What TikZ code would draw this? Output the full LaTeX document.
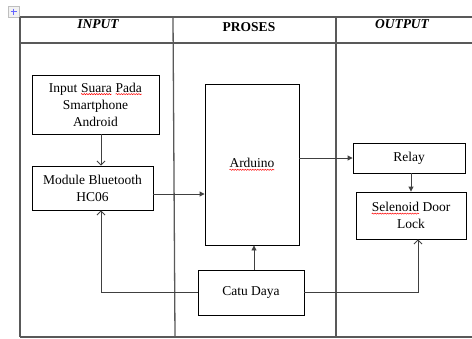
\documentclass[tikz,border=0pt]{standalone}
\usepackage{fontspec}
\setmainfont{Liberation Serif}
\usetikzlibrary{arrows.meta,decorations.pathmorphing}
\newcommand{\spell}[1]{\tikz[baseline=(w.base)]{\node[inner sep=0pt, outer sep=0pt, draw=none, minimum size=0pt] (w) {#1};
  \draw[red, line width=0.5pt, decorate, decoration={snake, amplitude=0.6pt, segment length=2.5pt}]
    ([yshift=-2pt]w.base west) -- ([yshift=-2pt]w.base east);}}
\tikzset{
  block/.style={draw=black, line width=0.9pt, fill=white, align=center, inner sep=2pt,
    font=\fontsize{13.5}{17}\selectfont},
  grid/.style={draw=black!65, line width=1.3pt},
  head/.style={font=\fontsize{13.5}{16}\selectfont\bfseries},
  wire/.style={draw=black!75, line width=0.9pt},
  fillarrow/.style={wire, -{Triangle[length=5pt,width=5pt]}},
  openarrow/.style={wire, -{Straight Barb[length=4pt,width=8pt]}}
}
\begin{document}
\begin{tikzpicture}[x=1pt,y=-1pt]
\useasboundingbox (0,0) rectangle (472,338);
% table move handle
\draw [black!25, fill=black!5] (8,6) rectangle (19,17);
\draw [blue!60, line width=1pt] (10.5,11.5) -- (16.5,11.5) (13.5,8.5) -- (13.5,14.5);
% table
\draw [grid] (20,17) -- (472,17);
\draw [grid] (20,43) -- (472,43);
\draw [grid] (20,337) -- (472,337);
\draw [grid] (20,17) -- (20,337);
\draw [grid] (173,17) -- (175,337);
\draw [grid] (336,17) -- (336,337);
\node [head] (hin) at (98,24) {\itshape INPUT};
\node [head] (hpr) at (249,27) {PROSES};
\node [head] (hout) at (402,24) {\itshape OUTPUT};
% blocks
\node [block, minimum width=127pt, minimum height=59pt] (inp) at (95.5,104.5)
  {Input \spell{Suara} \spell{Pada}\\Smartphone\\Android};
\node [block, minimum width=121pt, minimum height=44pt] (bt) at (92.5,188)
  {Module Bluetooth\\HC06};
\node [block, minimum width=94pt, minimum height=161pt] (ard) at (252,164.5)
  {\spell{Arduino}};
\node [block, minimum width=112pt, minimum height=30pt] (relay) at (409,158) {Relay};
\node [block, minimum width=110pt, minimum height=47pt] (sel) at (411,215.5)
  {\spell{Selenoid} Door\\Lock};
\node [block, minimum width=106pt, minimum height=45pt] (catu) at (251,292.5) {Catu Daya};
\coordinate (lx) at (101,0);
\coordinate (rx) at (418,0);
% connectors
\draw [openarrow] (lx |- inp.south) -- (lx |- bt.north);
\draw [fillarrow] ([yshift=-6pt]bt.east) -- ([yshift=-6pt]bt.east -| ard.west);
\draw [fillarrow] (ard.east |- relay.west) -- (relay.west);
\draw [fillarrow] (sel.north |- relay.south) -- (sel.north);
\draw [fillarrow] ([xshift=3pt]catu.north) -- ([xshift=3pt]catu.north |- ard.south);
\draw [openarrow] (catu.west) -| (lx |- bt.south);
\draw [openarrow] (catu.east) -| (rx |- sel.south);
\end{tikzpicture}
\end{document}
